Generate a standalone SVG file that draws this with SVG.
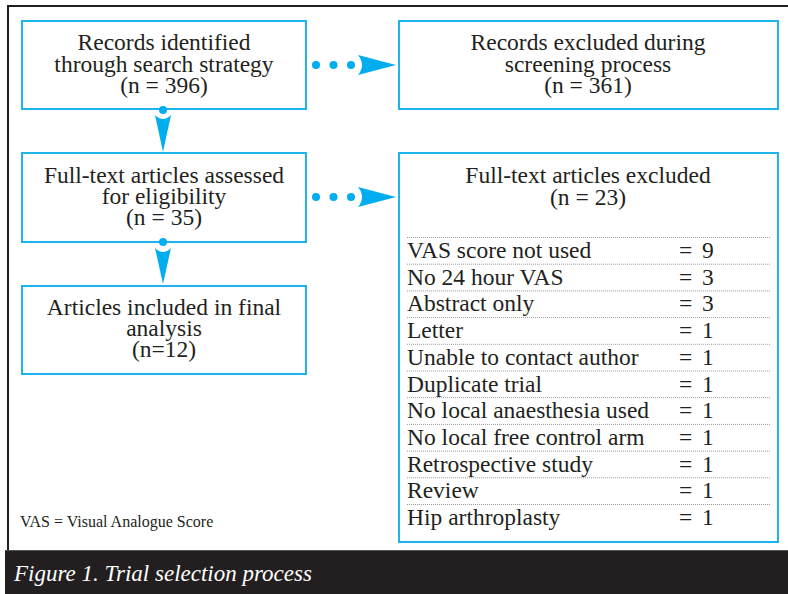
<svg xmlns="http://www.w3.org/2000/svg" width="788" height="594" viewBox="0 0 788 594">
<style>
.box{fill:#fff;stroke:#1cb4ea;stroke-width:2}
.t{font-family:"Liberation Serif","Times New Roman",serif;font-size:23.5px;fill:#231f20}
.c{text-anchor:middle}
.dot{fill:#00aeef}
.head{fill:#00aeef}
.sep{stroke:#9a9a9a;stroke-width:1;stroke-dasharray:1 1}
</style>
<rect x="0" y="0" width="788" height="594" fill="#fff"/>
<path d="M8,550 V6 H788" fill="none" stroke="#231f20" stroke-width="2"/>
<rect x="5" y="550" width="783" height="44" fill="#231f20"/>
<line x1="5" y1="550.5" x2="788" y2="550.5" stroke="#555" stroke-width="1"/>
<text x="14" y="581" font-family="'Liberation Serif','Times New Roman',serif" font-size="23" font-style="italic" fill="#fff">Figure 1. Trial selection process</text>

<g id="identified">
<rect class="box" x="22" y="21" width="284" height="88"/>
<text class="t c"><tspan x="164" y="50">Records identified</tspan><tspan x="164" y="72">through search strategy</tspan><tspan x="164" y="93">(n = 396)</tspan></text>
</g>
<g id="excluded-screening">
<rect class="box" x="399" y="21" width="379" height="88"/>
<text class="t c"><tspan x="588" y="50">Records excluded during</tspan><tspan x="588" y="72">screening process</tspan><tspan x="588" y="93">(n = 361)</tspan></text>
</g>
<g id="assessed">
<rect class="box" x="22" y="153" width="284" height="89"/>
<text class="t c"><tspan x="164" y="183">Full-text articles assessed</tspan><tspan x="164" y="204">for eligibility</tspan><tspan x="164" y="225">(n = 35)</tspan></text>
</g>
<g id="included">
<rect class="box" x="22" y="286" width="284" height="88"/>
<text class="t c"><tspan x="164" y="315">Articles included in final</tspan><tspan x="164" y="336">analysis</tspan><tspan x="164" y="357">(n=12)</tspan></text>
</g>
<g id="excluded-fulltext">
<rect class="box" x="399" y="153" width="379" height="389"/>
<text class="t c"><tspan x="588" y="183">Full-text articles excluded</tspan><tspan x="588" y="205">(n = 23)</tspan></text>
<g class="seps">
<line class="sep" x1="407" y1="237.5" x2="770" y2="237.5"/>
<line class="sep" x1="407" y1="264.2" x2="770" y2="264.2"/>
<line class="sep" x1="407" y1="290.9" x2="770" y2="290.9"/>
<line class="sep" x1="407" y1="317.6" x2="770" y2="317.6"/>
<line class="sep" x1="407" y1="344.3" x2="770" y2="344.3"/>
<line class="sep" x1="407" y1="371" x2="770" y2="371"/>
<line class="sep" x1="407" y1="397.7" x2="770" y2="397.7"/>
<line class="sep" x1="407" y1="424.4" x2="770" y2="424.4"/>
<line class="sep" x1="407" y1="451.1" x2="770" y2="451.1"/>
<line class="sep" x1="407" y1="477.8" x2="770" y2="477.8"/>
<line class="sep" x1="407" y1="504.5" x2="770" y2="504.5"/>
</g>
<text class="t" y="258"><tspan x="407">VAS score not used</tspan><tspan x="679">=</tspan><tspan x="702">9</tspan></text>
<text class="t" y="284.7"><tspan x="407">No 24 hour VAS</tspan><tspan x="679">=</tspan><tspan x="702">3</tspan></text>
<text class="t" y="311.4"><tspan x="407">Abstract only</tspan><tspan x="679">=</tspan><tspan x="702">3</tspan></text>
<text class="t" y="338.1"><tspan x="407">Letter</tspan><tspan x="679">=</tspan><tspan x="702">1</tspan></text>
<text class="t" y="364.8"><tspan x="407">Unable to contact author</tspan><tspan x="679">=</tspan><tspan x="702">1</tspan></text>
<text class="t" y="391.5"><tspan x="407">Duplicate trial</tspan><tspan x="679">=</tspan><tspan x="702">1</tspan></text>
<text class="t" y="418.2"><tspan x="407">No local anaesthesia used</tspan><tspan x="679">=</tspan><tspan x="702">1</tspan></text>
<text class="t" y="444.9"><tspan x="407">No local free control arm</tspan><tspan x="679">=</tspan><tspan x="702">1</tspan></text>
<text class="t" y="471.6"><tspan x="407">Retrospective study</tspan><tspan x="679">=</tspan><tspan x="702">1</tspan></text>
<text class="t" y="498.3"><tspan x="407">Review</tspan><tspan x="679">=</tspan><tspan x="702">1</tspan></text>
<text class="t" y="525"><tspan x="407">Hip arthroplasty</tspan><tspan x="679">=</tspan><tspan x="702">1</tspan></text>
</g>

<g id="connectors">
<g id="c-identified-assessed">
<circle class="dot" cx="163" cy="110" r="4"/>
<path class="head" d="M155,115 Q163,123 171,115 L163,152 Z"/>
</g>
<g id="c-assessed-included">
<circle class="dot" cx="163" cy="242" r="4"/>
<path class="head" d="M155,248 Q163,256 171,248 L163,284 Z"/>
</g>
<g id="c-identified-excluded">
<circle class="dot" cx="316" cy="65" r="4"/>
<circle class="dot" cx="333.5" cy="65" r="4"/>
<circle class="dot" cx="351" cy="65" r="4"/>
<path class="head" d="M358,55 Q366,65 358,75 L396,65 Z"/>
</g>
<g id="c-assessed-excluded">
<circle class="dot" cx="316" cy="197" r="4"/>
<circle class="dot" cx="333.5" cy="197" r="4"/>
<circle class="dot" cx="351" cy="197" r="4"/>
<path class="head" d="M358,187 Q366,197 358,207 L396,197 Z"/>
</g>
</g>

<text x="20" y="527" font-family="'Liberation Serif','Times New Roman',serif" font-size="16" fill="#231f20">VAS = Visual Analogue Score</text>
</svg>
